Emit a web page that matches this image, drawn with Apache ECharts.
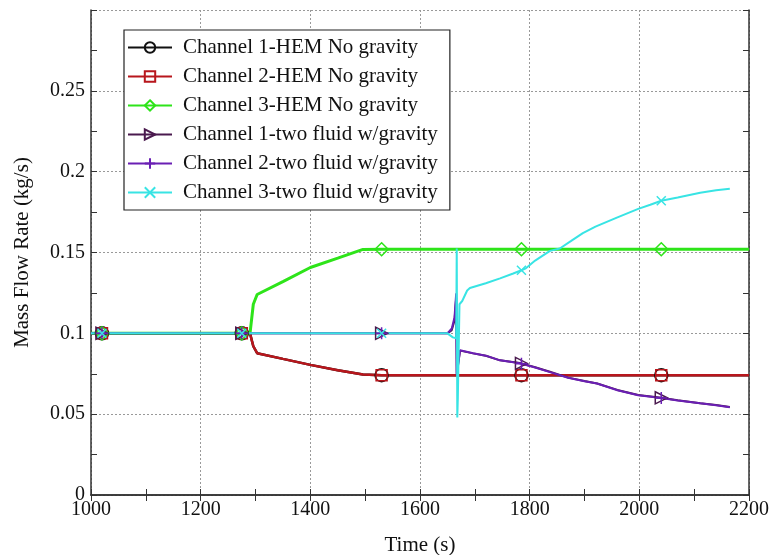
<!DOCTYPE html>
<html>
<head>
<meta charset="utf-8">
<script src="https://cdn.jsdelivr.net/npm/echarts@6/dist/echarts.min.js"></script>
<style>
  html, body { margin: 0; padding: 0; background: #fff; }
  #container { width: 771px; height: 555px; }
</style>
</head>
<body>
<div id="container"></div>
<script>
// marker positions (every N samples, like the original plot)
var markerTimes = [1020, 1275, 1530, 1785, 2040];

// HEM, no gravity
var hemTime = [1000, 1020, 1275, 1290, 1296, 1303, 1350, 1400, 1450, 1496, 1530, 1785, 2040, 2200];
var ch1Hem  = [0.1, 0.1, 0.1, 0.1, 0.092, 0.0877, 0.0842, 0.0805, 0.0772, 0.0745, 0.0741, 0.0741, 0.0741, 0.0741];
var ch2Hem  = [0.1, 0.1, 0.1, 0.1, 0.092, 0.0877, 0.0842, 0.0805, 0.0772, 0.0745, 0.0741, 0.0741, 0.0741, 0.0741];
var ch3Hem  = [0.1, 0.1, 0.1, 0.1, 0.118, 0.124, 0.132, 0.1407, 0.1465, 0.1519, 0.152, 0.152, 0.152, 0.152];

// two fluid, with gravity
var tfTime = [1000, 1020, 1275, 1530, 1650, 1658, 1663, 1666, 1667, 1670, 1673, 1697, 1720, 1746, 1782, 1785,
              1810, 1837, 1870, 1900, 1923, 1960, 1998, 2040, 2070, 2111, 2140, 2165];
var ch1Tf  = [0.1, 0.1, 0.1, 0.1, 0.1, 0.102, 0.108, 0.122, 0.075, 0.076, 0.0893, 0.0876, 0.0861, 0.0833, 0.0816, 0.0814,
              0.079, 0.0762, 0.0726, 0.0705, 0.069, 0.065, 0.0618, 0.0601, 0.0586, 0.0568, 0.0556, 0.0545];
var ch2Tf  = [0.1, 0.1, 0.1, 0.1, 0.1, 0.103, 0.11, 0.1247, 0.074, 0.075, 0.0895, 0.0877, 0.0862, 0.0833, 0.0815, 0.0812,
              0.0789, 0.076, 0.0725, 0.0704, 0.069, 0.0648, 0.0617, 0.06, 0.0585, 0.0567, 0.0555, 0.0543];

var cyTime = [1000, 1020, 1275, 1530, 1650, 1660, 1666, 1667, 1668, 1669, 1672, 1677, 1686, 1691, 1720, 1746, 1770,
              1785, 1792, 1810, 1837, 1855, 1875, 1897, 1920, 1959, 1998, 2020, 2040, 2070, 2111, 2140, 2165];
var ch3Tf  = [0.1, 0.1, 0.1, 0.1, 0.1, 0.0975, 0.097, 0.1525, 0.048, 0.06, 0.118, 0.12, 0.1265, 0.128, 0.131, 0.134, 0.137,
              0.139, 0.14, 0.145, 0.151, 0.1525, 0.157, 0.162, 0.166, 0.1716, 0.177, 0.1795, 0.182, 0.184, 0.187, 0.1885, 0.1895];

var names = [
    'Channel 1-HEM No gravity',
    'Channel 2-HEM No gravity',
    'Channel 3-HEM No gravity',
    'Channel 1-two fluid w/gravity',
    'Channel 2-two fluid w/gravity',
    'Channel 3-two fluid w/gravity'
];

var font = 'Liberation Serif';

function pairs(xs, ys) {
    return xs.map(function (x, i) { return [x, ys[i]]; });
}

function markSize(size) {
    return function (val) {
        return markerTimes.indexOf(val[0]) >= 0 ? size : 0;
    };
}

function makeLine(name, xs, ys, color, width, symbol, size, rotate) {
    return {
        name: name,
        type: 'line',
        data: pairs(xs, ys),
        symbol: symbol,
        symbolSize: markSize(size),
        symbolRotate: rotate || 0,
        showSymbol: true,
        lineStyle: { color: color, width: width },
        itemStyle: { color: 'rgba(0,0,0,0)', borderColor: color, borderWidth: 1.5 },
        emphasis: { disabled: true },
        z: 2
    };
}

var dom = document.getElementById('container');
var myChart = echarts.init(dom);

var option = {
    animation: false,
    backgroundColor: '#fff',
    textStyle: { fontFamily: font },
    grid: { left: 91, right: 22, top: 10, bottom: 60, containLabel: false, outerBoundsMode: 'none' },
    legend: {
        orient: 'vertical',
        left: 124,
        top: 30,
        padding: [7, 12, 7, 3],
        backgroundColor: '#fff',
        borderColor: '#222',
        borderWidth: 1.2,
        itemWidth: 44,
        itemHeight: 13,
        itemGap: 8,
        textStyle: { fontFamily: font, fontSize: 21, color: '#111', lineHeight: 21, padding: [0, 0, 0, 6] },
        data: names
    },
    xAxis: [{
        type: 'value',
        min: 1000, max: 2200, interval: 200,
        name: 'Time (s)',
        nameLocation: 'middle',
        nameGap: 40,
        nameTextStyle: { fontFamily: font, fontSize: 21, color: '#111' },
        axisLine: { lineStyle: { color: '#333', width: 1.5 } },
        axisTick: { inside: true, length: 6, lineStyle: { color: '#333' } },
        minorTick: { show: true, splitNumber: 2, length: 6, lineStyle: { color: '#333' } },
        axisLabel: {
            fontFamily: font, fontSize: 20, color: '#111', margin: 5,
            formatter: function (v) { return String(v); }
        },
        splitLine: { show: true, lineStyle: { color: '#999', type: [2, 2], width: 1 } }
    }, {
        type: 'value',
        position: 'top',
        min: 1000, max: 2200, interval: 200,
        axisLine: { lineStyle: { color: '#333', width: 1.5 } },
        axisTick: { inside: true, length: 6, lineStyle: { color: '#333' } },
        minorTick: { show: true, splitNumber: 2, length: 6, lineStyle: { color: '#333' } },
        axisLabel: { show: false },
        splitLine: { show: false }
    }],
    yAxis: [{
        type: 'value',
        min: 0, max: 0.3, interval: 0.05,
        name: 'Mass Flow Rate (kg/s)',
        nameLocation: 'middle',
        nameGap: 58,
        nameTextStyle: { fontFamily: font, fontSize: 21, color: '#111' },
        axisLine: { show: true, lineStyle: { color: '#333', width: 1.5 } },
        axisTick: { show: true, inside: true, length: 6, lineStyle: { color: '#333' } },
        minorTick: { show: true, splitNumber: 2, length: 6, lineStyle: { color: '#333' } },
        axisLabel: {
            fontFamily: font, fontSize: 20, color: '#111', margin: 6,
            formatter: function (v) { return v >= 0.3 ? '' : String(+v.toFixed(2)); }
        },
        splitLine: { show: true, lineStyle: { color: '#999', type: [2, 2], width: 1 } }
    }, {
        type: 'value',
        position: 'right',
        min: 0, max: 0.3, interval: 0.05,
        axisLine: { show: true, lineStyle: { color: '#333', width: 1.5 } },
        axisTick: { show: true, inside: true, length: 6, lineStyle: { color: '#333' } },
        minorTick: { show: true, splitNumber: 2, length: 6, lineStyle: { color: '#333' } },
        axisLabel: { show: false },
        splitLine: { show: false }
    }],
    series: [
        makeLine(names[0], hemTime, ch1Hem, '#111111', 2.5, 'circle', 13),
        makeLine(names[1], hemTime, ch2Hem, '#b8161c', 2.5, 'rect', 11),
        makeLine(names[2], hemTime, ch3Hem, '#2ee41a', 3, 'diamond', 13),
        makeLine(names[3], tfTime, ch1Tf, '#4a1a4e', 2, 'triangle', 12, -90),
        makeLine(names[4], tfTime, ch2Tf, '#6a1fb4', 2, 'path://M5,0L5,10M0,5L10,5', 12),
        makeLine(names[5], cyTime, ch3Tf, '#38e4e4', 2, 'path://M0,0L10,10M10,0L0,10', 9)
    ]
};

if (option && typeof option === 'object') {
    myChart.setOption(option, true);
}
</script>
</body>
</html>
